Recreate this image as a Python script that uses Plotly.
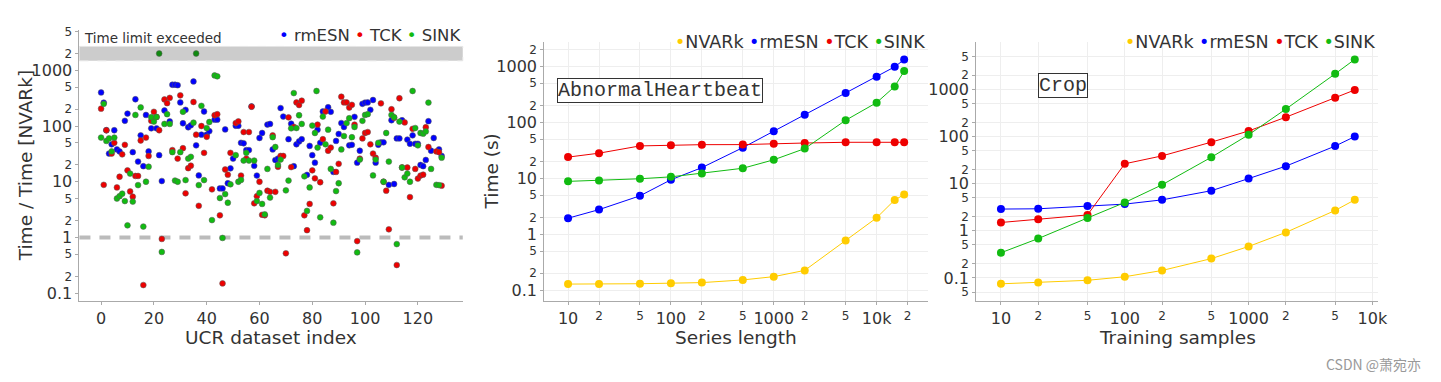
import plotly.graph_objects as go

W, H = 1441, 382
FONT = "DejaVu Sans"

# ---------------- Left panel: relative time per UCR dataset ----------------
rmesn_idx = [0, 1, 2, 3, 4, 5, 6, 7, 9, 10,
             12, 13, 14, 15, 16, 17, 18, 19, 21, 22,
             23, 24, 26, 27, 28, 29, 30, 31, 32, 33,
             34, 35, 36, 37, 38, 39, 40, 41, 43, 44,
             45, 46, 47, 48, 49, 50, 51, 52, 53, 54,
             55, 56, 57, 58, 59, 60, 61, 63, 64, 65,
             66, 67, 68, 69, 71, 72, 73, 74, 75, 76,
             78, 79, 80, 81, 82, 83, 84, 86, 87, 88,
             89, 90, 91, 92, 94, 95, 96, 97, 98, 99,
             100, 101, 102, 103, 104, 105, 106, 107, 109, 110,
             111, 112, 113, 114, 116, 117, 118, 119, 120, 121,
             122, 123, 124, 125, 126, 128, 129]
rmesn_val = [400, 263, 84, 32, 47, 84, 38, 35, 124, 167,
             34, 302, 23, 68, 19, 158, 35, 91, 91, 30,
             10.3, 190, 121, 550, 550, 540, 265, 112, 195, 95,
             103, 630, 45, 13, 70, 182, 70, 81, 130, 130,
             7.6, 7.6, 87, 9.4, 17.4, 26, 101, 101, 50, 49,
             37, 37, 225, 19.3, 12.9, 61, 75, 106, 109, 38,
             24.5, 26, 210, 148, 58, 110, 19, 47, 53, 58,
             13.3, 44, 30, 22, 86, 50, 182, 217, 180, 15,
             54, 72, 113, 96, 45, 46, 146, 22, 36, 250,
             263, 265, 195, 293, 22, 46, 51, 51, 8.8, 127,
             9.1, 60, 60, 127, 57, 48, 68, 48, 48, 20,
             19, 24.6, 122, 36, 61, 38, 29]

tck_idx = [0, 1, 2, 4, 5, 6, 7, 8, 9, 10,
           11, 12, 13, 14, 15, 16, 17, 18, 19, 20,
           21, 22, 23, 24, 25, 26, 27, 29, 30, 31,
           32, 33, 34, 35, 36, 37, 38, 39, 40, 42,
           43, 44, 45, 46, 47, 48, 49, 51, 52, 53,
           54, 55, 56, 57, 58, 59, 60, 61, 62, 63,
           64, 65, 66, 67, 68, 69, 70, 71, 72, 73,
           74, 75, 76, 77, 78, 79, 80, 81, 82, 83,
           84, 85, 86, 87, 88, 89, 90, 91, 92, 93,
           94, 95, 96, 97, 98, 99, 100, 101, 102, 103,
           104, 106, 107, 108, 109, 110, 111, 112, 113, 114,
           115, 116, 117, 118, 119, 120, 121, 122, 123, 124,
           127, 128, 129]
tck_val = [205, 8.8, 84, 32, 50, 7.9, 12.3, 31, 46, 16,
           6.7, 5.4, 12.7, 12.7, 55, 0.14, 62, 29, 124, 180,
           145, 84, 0.94, 300, 257, 320, 37, 26, 355, 40,
           6.2, 17.5, 19.4, 270, 70, 3.7, 100, 33, 64, 7.3,
           156, 163, 2.5, 0.15, 16.6, 13.4, 33, 113, 121, 12.9,
           78, 26, 78, 222, 4.1, 5.5, 10, 2.55, 2.5, 6.9,
           6.6, 68, 6.6, 18.5, 29, 29, 0.52, 143, 18.3, 96,
           265, 238, 285, 2.5, 1.35, 4.0, 16, 11.5, 106, 9.8,
           58, 182, 36, 41, 4.1, 15, 21, 336, 265, 265,
           214, 240, 106, 0.86, 26, 60, 75, 78, 47, 32,
           27, 255, 10, 6.9, 1.4, 200, 140, 0.32, 315, 18,
           116, 18, 5.3, 89, 17, 11.4, 12.9, 13.4, 95, 42,
           35, 34, 8.5]

sink_idx = [0, 1, 2, 3, 4, 5, 6, 7, 8, 9,
            10, 11, 12, 13, 14, 15, 16, 17, 18, 19,
            20, 21, 22, 23, 24, 25, 26, 27, 28, 29,
            30, 31, 32, 33, 34, 35, 36, 37, 38, 39,
            40, 41, 42, 43, 44, 45, 46, 47, 48, 49,
            51, 52, 53, 54, 55, 56, 66, 58, 59, 60,
            61, 62, 63, 64, 65, 67, 68, 70, 71, 72,
            73, 74, 75, 76, 77, 78, 79, 80, 81, 82,
            81.6, 83, 84, 85, 86, 87, 88, 89, 90, 91,
            92, 93, 94, 95, 96, 97, 98, 99, 100, 101,
            103, 104, 105, 107, 108, 109, 110, 111, 112, 113,
            114, 115, 116, 117, 118, 119, 120, 121, 122, 123,
            124, 125, 127, 128, 129]
sink_val = [62, 250, 54, 60, 35, 62, 5.0, 5.5, 6.1, 4.5,
            1.65, 14, 4.4, 158, 8.7, 216, 1.57, 10, 18.6, 144,
            120, 145, 2000, 0.55, 109, 163, 109, 34, 10.5, 10,
            34, 180, 10.7, 26, 28, 115, 2000, 8.7, 230, 10.7,
            92, 118, 2.05, 810, 780, 5.1, 0.98, 6.0, 4.2, 9,
            30, 10, 10.8, 24, 33, 24, 42, 24, 4.5, 6.3,
            4.0, 2.6, 17, 5.2, 63, 20, 25, 7.0, 10.5, 91,
            390, 92, 156, 109, 12.5, 3.0, 7.9, 102, 75, 41,
            425, 2.3, 148, 47, 86, 17, 1.84, 6.8, 9.4, 38,
            66, 113, 138, 63, 96, 0.54, 25, 124, 158, 163,
            13, 25, 50, 10, 75, 23, 158, 144, 0.76, 120,
            18, 12, 14, 10, 425, 92, 45, 75, 73, 80,
            263, 17, 8.8, 8.7, 27]

TIME_LIMIT = 2000
BAND_LOW, BAND_HIGH = 1480, 2680

# ---------------- Middle panel: AbnormalHeartbeat, series length ----------------
len_x = [10, 20, 50, 100, 200, 500, 1000, 2000, 5000, 10000, 15000, 18530]
len_nvark = [0.128, 0.128, 0.13, 0.133, 0.136, 0.152, 0.174, 0.225, 0.77, 1.96, 4.1, 5.1]
len_rmesn = [1.93, 2.75, 4.85, 9.4, 15.5, 35.3, 69.5, 137, 334, 656, 984, 1328]
len_tck = [23.9, 28.1, 37.9, 38.9, 39.9, 40, 41.6, 42.7, 44, 44, 44, 44]
len_sink = [8.8, 9.1, 9.8, 10.6, 12.2, 15.1, 21.4, 33.9, 109, 225, 438, 826]

# ---------------- Right panel: Crop, training samples ----------------
smp_x = [10, 20, 50, 100, 200, 500, 1000, 2000, 5000, 7200]
smp_nvark = [0.075, 0.080, 0.089, 0.106, 0.144, 0.257, 0.465, 0.925, 2.7, 4.53]
smp_rmesn = [2.89, 2.93, 3.34, 3.68, 4.53, 7.08, 12.8, 23.5, 62.7, 99.6]
smp_tck = [1.5, 1.75, 2.17, 26.4, 38.8, 75.9, 131, 257, 661, 971]
smp_sink = [0.342, 0.684, 1.87, 3.98, 9.45, 36.3, 109, 382, 2130, 4320]

C_NVARK = "#ffcc00"
C_RMESN = "#0000ff"
C_TCK = "#ee0000"
C_SINK = "#11bb11"
C_SINK_TL = "#108a10"

fig = go.Figure()

# left scatter traces
for name, xs, ys, col in [("rmESN", rmesn_idx, rmesn_val, C_RMESN),
                          ("TCK", tck_idx, tck_val, C_TCK),
                          ("SINK", sink_idx, sink_val, C_SINK)]:
    colors = [C_SINK_TL if (name == "SINK" and v >= TIME_LIMIT) else col for v in ys]
    fig.add_trace(go.Scatter(
        x=xs, y=ys, mode="markers", name=name, showlegend=False,
        marker=dict(color=colors, size=5.8, line=dict(color="rgba(90,90,90,0.75)", width=0.7)),
        xaxis="x", yaxis="y"))

# middle / right line traces
for xa, ya, xs, series in [("x2", "y2", len_x, [("NVARk", len_nvark, C_NVARK), ("rmESN", len_rmesn, C_RMESN),
                                                 ("TCK", len_tck, C_TCK), ("SINK", len_sink, C_SINK)]),
                           ("x3", "y3", smp_x, [("NVARk", smp_nvark, C_NVARK), ("rmESN", smp_rmesn, C_RMESN),
                                                 ("TCK", smp_tck, C_TCK), ("SINK", smp_sink, C_SINK)])]:
    for name, ys, col in series:
        fig.add_trace(go.Scatter(
            x=xs, y=ys, mode="lines+markers", name=name, showlegend=False,
            line=dict(color=col, width=1),
            marker=dict(color=col, size=8),
            xaxis=xa, yaxis=ya))


def px_x(p):
    return p / W


def px_y(p):
    return 1 - p / H


axis_common = dict(showline=True, linecolor="#aaaaaa", linewidth=1, ticks="outside", ticklen=3,
                   tickcolor="#aaaaaa", zeroline=False, tickfont=dict(size=16, color="#333333"))
grid_common = dict(showgrid=True, gridcolor="#eeeeee", gridwidth=1)

ydom = [px_y(301), px_y(25)]
ydom2 = [px_y(301), px_y(38)]

fig.update_layout(
    width=W, height=H, margin=dict(l=0, r=0, t=0, b=0),
    paper_bgcolor="white", plot_bgcolor="white",
    font=dict(family=FONT, size=16, color="#333333"),
    showlegend=False,
    xaxis=dict(domain=[px_x(80), px_x(466)], range=[-8.2, 137], tick0=0, dtick=20,
               showgrid=False, anchor="y", **axis_common),
    yaxis=dict(domain=ydom, type="log", range=[-1.145, 3.73], dtick="D2",
               showgrid=False, anchor="x", **axis_common),
    xaxis2=dict(domain=[px_x(548), px_x(934)], type="log", range=[0.768, 4.495], dtick="D2",
                anchor="y2", **grid_common, **axis_common),
    yaxis2=dict(domain=ydom2, type="log", range=[-1.2, 3.43], dtick="D2",
                anchor="x2", **grid_common, **axis_common),
    xaxis3=dict(domain=[px_x(983), px_x(1388)], type="log", range=[0.8, 4.048], dtick="D2",
                anchor="y3", **grid_common, **axis_common),
    yaxis3=dict(domain=ydom2, type="log", range=[-1.495, 3.996], dtick="D2",
                anchor="x3", **grid_common, **axis_common),
)

# time-limit band and reference line on left panel
fig.add_shape(type="rect", xref="x domain", yref="y", x0=0, x1=1, y0=BAND_LOW, y1=BAND_HIGH,
              fillcolor="#cccccc", line=dict(color="#e6e6e6", width=1, dash="dash"), layer="below")
fig.add_shape(type="line", xref="x domain", yref="y", x0=0, x1=1, y0=1, y1=1,
              line=dict(color="#bbbbbb", width=4, dash="11px,9px"), layer="below")

ann = []
ann.append(dict(text="Time limit exceeded", x=px_x(83), y=px_y(34), xref="paper", yref="paper",
                xanchor="left", yanchor="middle", showarrow=False, font=dict(size=13.5, color="#333333")))


def bullet(c):
    return f"<span style='color:{c}'>•</span>"


ann.append(dict(text=f"{bullet(C_RMESN)} rmESN {bullet(C_TCK)} TCK {bullet(C_SINK)} SINK",
                x=px_x(466), y=px_y(31), xref="paper", yref="paper", xanchor="right", yanchor="middle",
                showarrow=False, font=dict(size=16.5, color="#333333")))
leg4 = f"{bullet(C_NVARK)}NVARk {bullet(C_RMESN)}rmESN {bullet(C_TCK)}TCK {bullet(C_SINK)}SINK"
ann.append(dict(text=leg4, x=px_x(933), y=px_y(38), xref="paper", yref="paper", xanchor="right",
                yanchor="middle", showarrow=False, font=dict(size=17.5, color="#333333")))
ann.append(dict(text=leg4, x=px_x(1387), y=px_y(38), xref="paper", yref="paper", xanchor="right",
                yanchor="middle", showarrow=False, font=dict(size=17.5, color="#333333")))

# dataset boxes
ann.append(dict(text="AbnormalHeartbeat", x=px_x(664.5), y=px_y(87), xref="paper", yref="paper",
                xanchor="center", yanchor="middle", showarrow=False, bordercolor="#333333", borderwidth=1,
                borderpad=0, bgcolor="white", font=dict(family="Liberation Mono", size=20, color="#333333")))
ann.append(dict(text="Crop", x=px_x(1070.5), y=px_y(81.5), xref="paper", yref="paper",
                xanchor="center", yanchor="middle", showarrow=False, bordercolor="#333333", borderwidth=1,
                borderpad=0, bgcolor="white", font=dict(family="Liberation Mono", size=20, color="#333333")))

# axis titles
for txt, x, y, ang in [("UCR dataset index", 273, 338, 0), ("Series length", 741, 338, 0),
                       ("Training samples", 1185.5, 338, 0), ("Time / Time [NVARk]", 26, 163, -90),
                       ("Time (s)", 495, 169.5, -90)]:
    ann.append(dict(text=txt, x=px_x(x), y=px_y(y), xref="paper", yref="paper", xanchor="center",
                    yanchor="middle", showarrow=False, textangle=ang, font=dict(size=18.5, color="#333333")))

ann.append(dict(text="CSDN @萧宛亦", x=px_x(1433), y=px_y(365), xref="paper", yref="paper",
                xanchor="right", yanchor="middle", showarrow=False,
                font=dict(family="Noto Sans CJK SC", size=14, color="#999999")))

fig.update_layout(annotations=ann)
fig.write_html("out.html", config={"displayModeBar": False},
               post_script="document.body.style.margin='0';document.body.style.overflow='hidden';")
